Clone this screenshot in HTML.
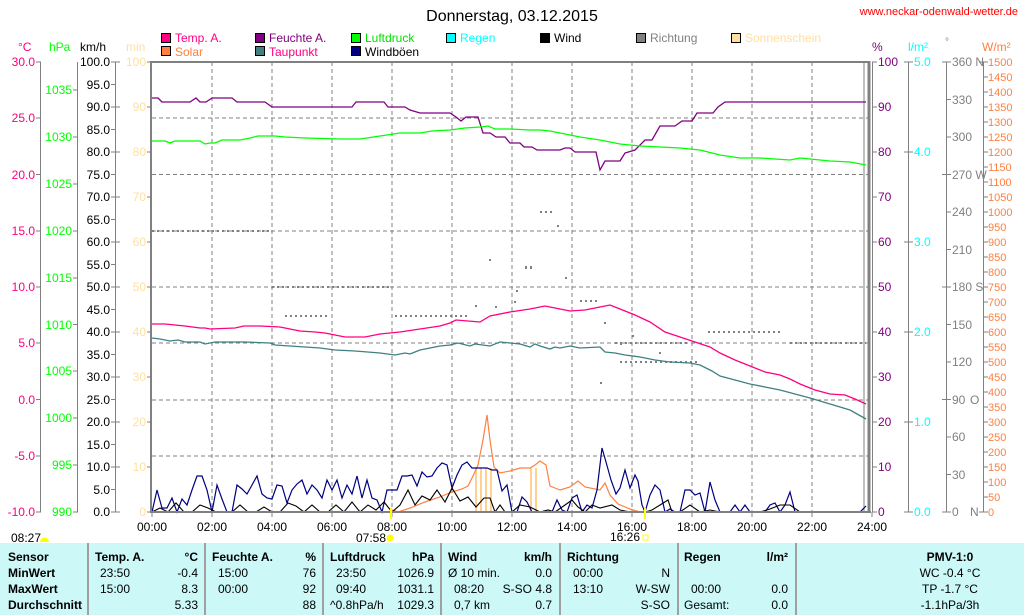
<!DOCTYPE html>
<html><head><meta charset="utf-8"><style>
html,body{margin:0;padding:0;background:#fff;}
svg{display:block;font-family:"Liberation Sans",sans-serif;font-size:12px;}
</style></head><body>
<svg width="1024" height="615" viewBox="0 0 1024 615" xmlns="http://www.w3.org/2000/svg">
<rect width="1024" height="615" fill="#fff"/>
<text x="512" y="21" font-size="16" text-anchor="middle">Donnerstag, 03.12.2015</text>
<text x="1018" y="15" font-size="11" fill="#ff0000" text-anchor="end">www.neckar-odenwald-wetter.de</text>

<!-- legend -->
<g stroke="#000" stroke-width="1">
<rect x="161.5" y="33.5" width="9" height="9" fill="#ff0080"/>
<rect x="255.5" y="33.5" width="9" height="9" fill="#800080"/>
<rect x="351.5" y="33.5" width="9" height="9" fill="#00ff00"/>
<rect x="446.5" y="33.5" width="9" height="9" fill="#00ffff"/>
<rect x="540.5" y="33.5" width="9" height="9" fill="#000"/>
<rect x="636.5" y="33.5" width="9" height="9" fill="#808080"/>
<rect x="731.5" y="33.5" width="9" height="9" fill="#ffe0a0"/>
<rect x="161.5" y="46.5" width="9" height="9" fill="#ff8040"/>
<rect x="255.5" y="46.5" width="9" height="9" fill="#408080"/>
<rect x="351.5" y="46.5" width="9" height="9" fill="#000080"/>
</g>
<text x="175" y="42" fill="#ff0080">Temp. A.</text>
<text x="269" y="42" fill="#800080">Feuchte A.</text>
<text x="365" y="42" fill="#00e000">Luftdruck</text>
<text x="460" y="42" fill="#00ffff">Regen</text>
<text x="554" y="42" fill="#000">Wind</text>
<text x="650" y="42" fill="#808080">Richtung</text>
<text x="745" y="42" fill="#ffe0a0">Sonnenschein</text>
<text x="175" y="56" fill="#ff8040">Solar</text>
<text x="269" y="56" fill="#ff0080">Taupunkt</text>
<text x="365" y="56" fill="#000">Windböen</text>

<!-- unit labels -->
<text x="18" y="51" fill="#ff0080">°C</text>
<text x="49" y="51" fill="#00ff00">hPa</text>
<text x="80" y="51" fill="#000">km/h</text>
<text x="126" y="51" fill="#ffe0a0">min</text>
<text x="872" y="51" fill="#800080">%</text>
<text x="908" y="51" fill="#00ffff">l/m²</text>
<text x="945" y="45" fill="#808080" font-size="10">°</text>
<text x="982" y="51" fill="#ff8040">W/m²</text>

<!-- grid -->
<g stroke="#808080" stroke-dasharray="4,3" stroke-width="1">
<line x1="212" y1="62" x2="212" y2="512"/><line x1="272" y1="62" x2="272" y2="512"/>
<line x1="332" y1="62" x2="332" y2="512"/><line x1="392" y1="62" x2="392" y2="512"/>
<line x1="452" y1="62" x2="452" y2="512"/><line x1="512" y1="62" x2="512" y2="512"/>
<line x1="572" y1="62" x2="572" y2="512"/><line x1="632" y1="62" x2="632" y2="512"/>
<line x1="692" y1="62" x2="692" y2="512"/><line x1="752" y1="62" x2="752" y2="512"/>
<line x1="812" y1="62" x2="812" y2="512"/>
<line x1="152" y1="118" x2="870" y2="118"/><line x1="152" y1="174.5" x2="870" y2="174.5"/>
<line x1="152" y1="231" x2="870" y2="231"/><line x1="152" y1="287" x2="870" y2="287"/>
<line x1="152" y1="343" x2="870" y2="343"/><line x1="152" y1="400" x2="870" y2="400"/>
<line x1="152" y1="456" x2="870" y2="456"/>
</g>
<line x1="864" y1="62" x2="864" y2="512" stroke="#808080"/>

<!-- sunshine bars -->
<g stroke="#ffd090" stroke-width="2">
<line x1="476" y1="468" x2="476" y2="512"/><line x1="481" y1="468" x2="481" y2="512"/>
<line x1="486" y1="468" x2="486" y2="512"/><line x1="491" y1="468" x2="491" y2="512"/>
<line x1="531" y1="468" x2="531" y2="512"/><line x1="536" y1="468" x2="536" y2="512"/>
</g>

<!-- direction dots -->
<g stroke="#808080" stroke-width="2" stroke-dasharray="2,3">
<line x1="152" y1="231" x2="270" y2="231"/>
<line x1="272" y1="287" x2="392" y2="287"/>
<line x1="285" y1="316" x2="330" y2="316"/>
<line x1="332" y1="287" x2="390" y2="287"/>
<line x1="395" y1="316" x2="470" y2="316"/>
<line x1="420" y1="316" x2="450" y2="316"/>
<line x1="540" y1="212" x2="552" y2="212"/>
<line x1="525" y1="267" x2="535" y2="267"/>
<line x1="525" y1="268" x2="535" y2="268"/>
<line x1="580" y1="301" x2="598" y2="301"/>
<line x1="708" y1="332" x2="782" y2="332"/>
<line x1="790" y1="343" x2="866" y2="343"/>
<line x1="615" y1="343" x2="690" y2="343"/>
<line x1="620" y1="362" x2="700" y2="362"/>
</g>
<g fill="#808080">
<rect x="489" y="259" width="2" height="2"/><rect x="495" y="306" width="2" height="2"/>
<rect x="514" y="301" width="2" height="2"/><rect x="557" y="225" width="2" height="2"/>
<rect x="565" y="277" width="2" height="2"/><rect x="600" y="382" width="2" height="2"/>
<rect x="604" y="322" width="2" height="2"/><rect x="620" y="343" width="2" height="2"/>
<rect x="632" y="335" width="2" height="2"/><rect x="659" y="352" width="2" height="2"/>
<rect x="516" y="290" width="2" height="2"/><rect x="475" y="305" width="2" height="2"/>
</g>

<!-- humidity -->
<polyline fill="none" stroke="#800080" stroke-width="1.3" points="152,98 158,98 162,102 190,102 196,98 200,102 206,102 212,98 232,98 237,102 265,102 272,107 352,107 356,102 384,102 388,107 405,107 410,110 420,113 450,113 456,117 461,121 466,117 478,117 483,133 490,133 496,137 505,137 510,143 520,143 524,147 532,147 537,150 560,150 565,148 570,148 575,152 596,152 600,170 605,161 620,161 625,153 635,150 645,140 652,140 660,126 675,126 682,121 692,121 697,113 713,113 718,107 725,102 866,102"/>
<!-- pressure -->
<polyline fill="none" stroke="#00ff00" stroke-width="1.3" points="152,141 165,141 170,143 175,141 200,141 205,144 210,143 215,143 222,140 240,140 250,138 258,136 275,136 285,137 305,138 340,139 360,139 380,136 400,133 420,133 432,131 450,130 465,128 480,127 488,126 495,129 510,129 530,130 540,130 550,131 560,133 570,135 580,137 600,140 620,144 640,146 660,147 680,148 700,150 720,155 740,158 760,158 790,160 800,158 830,161 850,162 866,165"/>
<!-- temperature -->
<polyline fill="none" stroke="#ff0080" stroke-width="1.3" points="152,324 165,324 175,325 185,326 200,328 205,328 210,329 235,328 244,326 260,326 280,327 290,329 300,331 315,332 325,333 335,335 345,337 365,337 380,334 400,332 420,329 440,326 450,323 456,320 480,322 490,316 510,312 530,309 545,306 555,308 570,311 585,310 600,307 610,305 620,309 635,315 650,322 665,332 680,337 695,342 710,347 720,353 735,360 750,366 765,372 780,375 790,379 800,384 815,390 830,394 845,395 855,399 866,404"/>
<!-- dew point -->
<polyline fill="none" stroke="#408080" stroke-width="1.3" points="152,338 160,339 170,341 178,340 185,342 200,342 205,344 210,343 215,342 245,342 270,343 275,345 290,346 320,348 335,350 355,351 380,353 395,355 405,353 410,354 415,352 420,350 430,348 440,346 450,345 458,343 470,346 475,344 490,346 500,342 510,343 520,344 530,347 535,344 540,346 550,349 555,347 560,348 570,346 580,348 600,347 605,352 615,353 625,355 640,357 655,360 670,362 690,363 700,365 712,371 720,376 735,380 750,384 765,387 780,390 795,394 810,398 830,404 850,410 866,419"/>

<!-- solar -->
<polyline fill="none" stroke="#ff8040" stroke-width="1.2" points="392,510 398,512 410,508 425,502 440,497 452,492 462,489 468,486 473,476 478,465 483,440 487,415 490,440 494,467 500,473 510,471 520,468 530,468 535,465 540,461 546,465 550,486 560,490 570,487 578,481 585,487 600,490 605,483 610,495 618,504 630,509 640,512"/>

<!-- wind gusts -->
<polyline fill="none" stroke="#000080" stroke-width="1.2" points="152,512 157,490 162,508 167,508 172,498 177,512 182,499 187,505 192,490 197,476 202,476 207,490 212,512 217,485 222,499 227,512 232,512 237,485 242,489 247,494 252,485 257,476 262,494 267,498 272,499 277,485 282,486 287,503 292,490 297,484 302,480 307,494 312,485 317,490 322,498 327,480 332,490 337,480 342,498 347,485 352,494 357,476 362,498 367,480 372,498 377,500 382,512 387,490 392,490 397,490 402,476 407,476 412,475 417,486 422,472 427,477 432,476 437,468 442,463 447,465 452,488 457,475 462,465 467,462 472,468 477,468 482,468 487,468 492,470 497,470 502,491 507,485 512,512 517,512 522,497 527,502 532,512 537,512 542,512 547,512 552,512 557,500 562,510 567,512 572,498 577,495 582,512 587,505 592,508 597,490 602,448 606,462 611,480 616,494 620,488 625,470 630,488 635,475 638,481 642,505 645,512 650,495 655,485 660,490 665,512 670,509 675,512 680,512 685,490 690,490 695,495 700,493 705,512 710,482 715,500 720,512 725,512 730,512 735,505 740,512 745,505 750,512 755,512 760,512 765,512 770,505 775,503 780,512 785,505 790,492 795,512 800,512 805,512 810,512 815,512 820,512 825,512 830,512 835,512 840,512 845,512 850,512 855,512 860,512 866,506"/>
<!-- wind -->
<polyline fill="none" stroke="#000" stroke-width="1.1" points="152,512 160,508 168,512 176,503 184,512 192,512 200,505 208,508 216,512 224,512 232,512 240,505 248,512 256,512 264,507 272,512 280,512 288,503 296,506 304,512 312,505 320,512 328,512 336,505 344,512 352,502 360,512 368,505 376,510 384,502 392,512 400,505 408,490 415,505 422,496 430,500 437,490 445,502 452,488 460,501 468,497 476,507 484,498 490,498 495,512 500,505 505,512 512,512 520,505 530,507 540,512 548,510 555,512 565,505 572,500 578,507 585,512 592,505 600,508 612,505 620,510 630,512 640,512 645,512 652,510 660,505 668,500 672,512 680,512 690,505 700,512 710,510 720,512 760,512 770,509 780,505 790,505 800,512 866,512"/>

<!-- plot frame -->
<line x1="151" y1="61" x2="151" y2="513" stroke="#808080" stroke-width="2"/>
<line x1="150" y1="62" x2="870" y2="62" stroke="#808080" stroke-width="2"/>
<line x1="150" y1="512" x2="871" y2="512" stroke="#808080" stroke-width="2"/>
<line x1="869" y1="61" x2="869" y2="513" stroke="#808080" stroke-width="3"/>

<!-- x ticks & labels -->
<g stroke="#808080"><line x1="152" y1="512" x2="152" y2="517"/><line x1="212" y1="512" x2="212" y2="517"/><line x1="272" y1="512" x2="272" y2="517"/><line x1="332" y1="512" x2="332" y2="517"/><line x1="392" y1="512" x2="392" y2="517"/><line x1="452" y1="512" x2="452" y2="517"/><line x1="512" y1="512" x2="512" y2="517"/><line x1="572" y1="512" x2="572" y2="517"/><line x1="632" y1="512" x2="632" y2="517"/><line x1="692" y1="512" x2="692" y2="517"/><line x1="752" y1="512" x2="752" y2="517"/><line x1="812" y1="512" x2="812" y2="517"/><line x1="872" y1="512" x2="872" y2="517"/></g>
<g text-anchor="middle"><text x="152" y="531">00:00</text><text x="212" y="531">02:00</text><text x="272" y="531">04:00</text><text x="332" y="531">06:00</text><text x="392" y="531">08:00</text><text x="452" y="531">10:00</text><text x="512" y="531">12:00</text><text x="572" y="531">14:00</text><text x="632" y="531">16:00</text><text x="692" y="531">18:00</text><text x="752" y="531">20:00</text><text x="812" y="531">22:00</text><text x="872" y="531">24:00</text></g>
<line x1="391" y1="508" x2="391" y2="519" stroke="#ffff00" stroke-width="2"/>
<line x1="645" y1="508" x2="645" y2="519" stroke="#ffff00" stroke-width="2"/>
<text x="11" y="542">08:27</text><path d="M40,542 a4,4 0 0 1 9,0 z" fill="#ffff00"/>
<text x="356" y="542">07:58</text><circle cx="390" cy="538" r="3.5" fill="#ffff00"/>
<text x="610" y="541">16:26</text><rect x="643" y="535" width="5" height="5" fill="none" stroke="#ffff00"/>

<!-- left axes -->
<g stroke="#808080">
<line x1="40.5" y1="62" x2="40.5" y2="512"/><line x1="77.5" y1="62" x2="77.5" y2="512"/><line x1="115.5" y1="62" x2="115.5" y2="512"/>
<path d="M36,62H41M36,118H41M36,174.5H41M36,231H41M36,287H41M36,343H41M36,399.5H41M36,456H41M36,512H41"/>
<path d="M73,90H78M73,137H78M73,184H78M73,231H78M73,278H78M73,324.5H78M73,371H78M73,418H78M73,465H78M73,512H78"/>
<path d="M111,62H120M111,84.5H116M111,107H120M111,129.5H116M111,152H120M111,174.5H116M111,197H120M111,219.5H116M111,242H120M111,264.5H116M111,287H120M111,309.5H116M111,332H120M111,354.5H116M111,377H120M111,399.5H116M111,422H120M111,444.5H116M111,467H120M111,489.5H116M111,512H120"/>
<path d="M147,62H152M147,107H152M147,152H152M147,197H152M147,242H152M147,287H152M147,332H152M147,377H152M147,422H152M147,467H152M147,512H152"/>
</g>
<g text-anchor="end" fill="#ff0080"><text x="35" y="66">30.0</text><text x="35" y="122">25.0</text><text x="35" y="179">20.0</text><text x="35" y="235">15.0</text><text x="35" y="291">10.0</text><text x="35" y="347">5.0</text><text x="35" y="404">0.0</text><text x="35" y="460">-5.0</text><text x="35" y="516">-10.0</text></g>
<g text-anchor="end" fill="#00ff00"><text x="72" y="94">1035</text><text x="72" y="141">1030</text><text x="72" y="188">1025</text><text x="72" y="235">1020</text><text x="72" y="282">1015</text><text x="72" y="329">1010</text><text x="72" y="375">1005</text><text x="72" y="422">1000</text><text x="72" y="469">995</text><text x="72" y="516">990</text></g>
<g text-anchor="end" fill="#000"><text x="110" y="66">100.0</text><text x="110" y="89">95.0</text><text x="110" y="111">90.0</text><text x="110" y="134">85.0</text><text x="110" y="156">80.0</text><text x="110" y="179">75.0</text><text x="110" y="201">70.0</text><text x="110" y="224">65.0</text><text x="110" y="246">60.0</text><text x="110" y="269">55.0</text><text x="110" y="291">50.0</text><text x="110" y="314">45.0</text><text x="110" y="336">40.0</text><text x="110" y="359">35.0</text><text x="110" y="381">30.0</text><text x="110" y="404">25.0</text><text x="110" y="426">20.0</text><text x="110" y="449">15.0</text><text x="110" y="471">10.0</text><text x="110" y="494">5.0</text><text x="110" y="516">0.0</text></g>
<g text-anchor="end" fill="#ffe0a0"><text x="146" y="66">100</text><text x="146" y="111">90</text><text x="146" y="156">80</text><text x="146" y="201">70</text><text x="146" y="246">60</text><text x="146" y="291">50</text><text x="146" y="336">40</text><text x="146" y="381">30</text><text x="146" y="426">20</text><text x="146" y="471">10</text><text x="146" y="516">0</text></g>

<!-- right axes -->
<g stroke="#808080">
<line x1="872.5" y1="62" x2="872.5" y2="512"/>
<path d="M872,62H877M872,107H877M872,152H877M872,197H877M872,242H877M872,287H877M872,332H877M872,377H877M872,422H877M872,467H877M872,512H877"/>
<line x1="908.5" y1="62" x2="908.5" y2="512"/>
<path d="M904,62H913M904,152H913M904,242H913M904,332H913M904,422H913M904,512H913"/>
<line x1="946.5" y1="62" x2="946.5" y2="512"/>
<path d="M942,62H951M946,99.5H951M946,137H951M942,174.5H951M946,212H951M946,249.5H951M942,287H951M946,324.5H951M946,362H951M942,399.5H951M946,437H951M946,474.5H951M942,512H951"/>
<line x1="983.5" y1="62" x2="983.5" y2="512"/>
<path d="M979,62H988M983,77H988M983,92H988M983,107H988M983,122H988M983,137H988M983,152H988M983,167H988M983,182H988M983,197H988M983,212H988M983,227H988M983,242H988M983,257H988M983,272H988M983,287H988M983,302H988M983,317H988M983,332H988M983,347H988M983,362H988M983,377H988M983,392H988M983,407H988M983,422H988M983,437H988M983,452H988M983,467H988M983,482H988M983,497H988M979,512H988"/>
</g>
<g fill="#800080"><text x="878" y="66">100</text><text x="878" y="111">90</text><text x="878" y="156">80</text><text x="878" y="201">70</text><text x="878" y="246">60</text><text x="878" y="291">50</text><text x="878" y="336">40</text><text x="878" y="381">30</text><text x="878" y="426">20</text><text x="878" y="471">10</text><text x="878" y="516">0</text></g>
<g fill="#00ffff"><text x="914" y="66">5.0</text><text x="914" y="156">4.0</text><text x="914" y="246">3.0</text><text x="914" y="336">2.0</text><text x="914" y="426">1.0</text><text x="914" y="516">0.0</text></g>
<g fill="#808080"><text x="952" y="66">360 N</text><text x="952" y="104">330</text><text x="952" y="141">300</text><text x="952" y="179">270 W</text><text x="952" y="216">240</text><text x="952" y="254">210</text><text x="952" y="291">180 S</text><text x="952" y="329">150</text><text x="952" y="366">120</text><text x="952" y="404">90</text><text x="970" y="404">O</text><text x="952" y="441">60</text><text x="952" y="479">30</text><text x="952" y="516">0</text><text x="970" y="516">N</text></g>
<g fill="#ff8040" font-size="11"><text x="988" y="66">1500</text><text x="988" y="81">1450</text><text x="988" y="96">1400</text><text x="988" y="111">1350</text><text x="988" y="126">1300</text><text x="988" y="141">1250</text><text x="988" y="156">1200</text><text x="988" y="171">1150</text><text x="988" y="186">1100</text><text x="988" y="201">1050</text><text x="988" y="216">1000</text><text x="988" y="231">950</text><text x="988" y="246">900</text><text x="988" y="261">850</text><text x="988" y="276">800</text><text x="988" y="291">750</text><text x="988" y="306">700</text><text x="988" y="321">650</text><text x="988" y="336">600</text><text x="988" y="351">550</text><text x="988" y="366">500</text><text x="988" y="381">450</text><text x="988" y="396">400</text><text x="988" y="411">350</text><text x="988" y="426">300</text><text x="988" y="441">250</text><text x="988" y="456">200</text><text x="988" y="471">150</text><text x="988" y="486">100</text><text x="988" y="501">50</text><text x="988" y="516">0</text></g>

<!-- table -->
<rect x="0" y="543" width="1024" height="72" fill="#ccf8f8"/>
<g stroke="#a0a0a0" stroke-width="2"><line x1="88" y1="543" x2="88" y2="615"/><line x1="205" y1="543" x2="205" y2="615"/><line x1="323" y1="543" x2="323" y2="615"/><line x1="441" y1="543" x2="441" y2="615"/><line x1="560" y1="543" x2="560" y2="615"/><line x1="678" y1="543" x2="678" y2="615"/><line x1="796" y1="543" x2="796" y2="615"/></g>
<g font-weight="bold">
<text x="8" y="561">Sensor</text><text x="8" y="577">MinWert</text><text x="8" y="593">MaxWert</text><text x="8" y="609">Durchschnitt</text>
<text x="95" y="561">Temp. A.</text><text x="198" y="561" text-anchor="end">°C</text>
<text x="212" y="561">Feuchte A.</text><text x="316" y="561" text-anchor="end">%</text>
<text x="330" y="561">Luftdruck</text><text x="434" y="561" text-anchor="end">hPa</text>
<text x="448" y="561">Wind</text><text x="552" y="561" text-anchor="end">km/h</text>
<text x="567" y="561">Richtung</text>
<text x="684" y="561">Regen</text><text x="788" y="561" text-anchor="end">l/m²</text>
<text x="950" y="561" text-anchor="middle">PMV-1:0</text>
</g>
<text x="100" y="577">23:50</text><text x="198" y="577" text-anchor="end">-0.4</text>
<text x="100" y="593">15:00</text><text x="198" y="593" text-anchor="end">8.3</text>
<text x="198" y="609" text-anchor="end">5.33</text>
<text x="218" y="577">15:00</text><text x="316" y="577" text-anchor="end">76</text>
<text x="218" y="593">00:00</text><text x="316" y="593" text-anchor="end">92</text>
<text x="316" y="609" text-anchor="end">88</text>
<text x="336" y="577">23:50</text><text x="434" y="577" text-anchor="end">1026.9</text>
<text x="336" y="593">09:40</text><text x="434" y="593" text-anchor="end">1031.1</text>
<text x="330" y="609">^0.8hPa/h</text><text x="434" y="609" text-anchor="end">1029.3</text>
<text x="448" y="577">Ø 10 min.</text><text x="552" y="577" text-anchor="end">0.0</text>
<text x="454" y="593">08:20</text><text x="552" y="593" text-anchor="end">S-SO 4.8</text>
<text x="454" y="609">0,7 km</text><text x="552" y="609" text-anchor="end">0.7</text>
<text x="573" y="577">00:00</text><text x="670" y="577" text-anchor="end">N</text>
<text x="573" y="593">13:10</text><text x="670" y="593" text-anchor="end">W-SW</text>
<text x="670" y="609" text-anchor="end">S-SO</text>
<text x="691" y="593">00:00</text><text x="788" y="593" text-anchor="end">0.0</text>
<text x="684" y="609">Gesamt:</text><text x="788" y="609" text-anchor="end">0.0</text>
<text x="950" y="577" text-anchor="middle">WC -0.4 °C</text>
<text x="950" y="593" text-anchor="middle">TP -1.7 °C</text>
<text x="950" y="609" text-anchor="middle">-1.1hPa/3h</text>
</svg>
</body></html>
